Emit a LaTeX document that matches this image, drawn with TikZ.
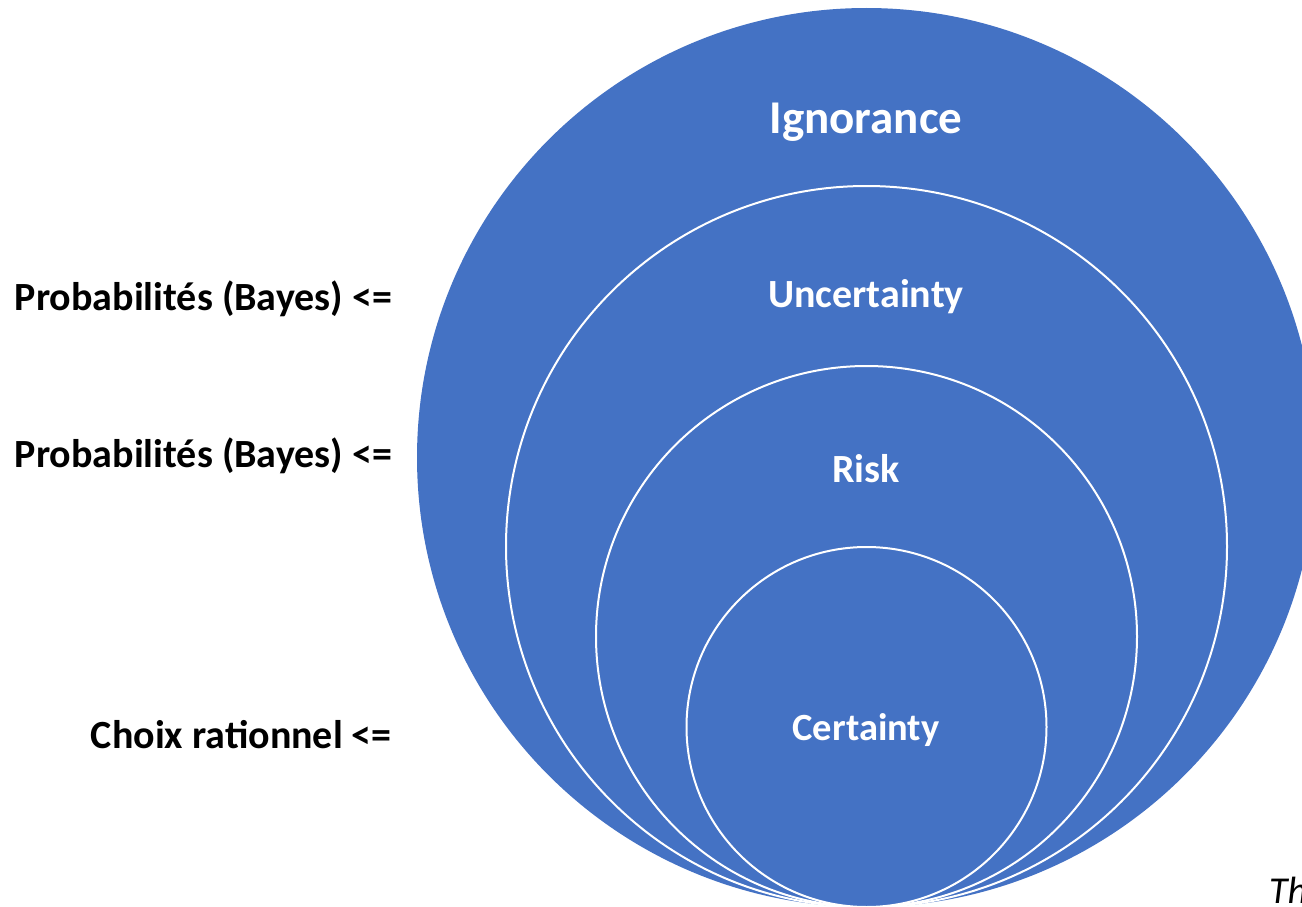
\documentclass[tikz,border=0pt]{standalone}
\usepackage{fontspec}
\setmainfont{Carlito}
\definecolor{officeblue}{HTML}{4472C4}
\begin{document}
\begin{tikzpicture}[x=1pt,y=-1pt,
  ring/.style={fill=officeblue,draw=white,line width=2pt},
  ringlabel/.style={anchor=base,text=white,font=\bfseries\fontsize{40}{48}\selectfont,inner sep=0pt},
  sidelabel/.style={anchor=base east,text=black,font=\bfseries\fontsize{40}{48}\selectfont,inner sep=0pt}]
  \useasboundingbox (0,0) rectangle (1302,907);
  \clip (0,0) rectangle (1302,907);
  % nested circles, all touching at the bottom
  \fill[officeblue] (866.5,457.5) circle[radius=449.5pt];
  \draw[ring] (866.5,546.5) circle[radius=360.5pt];
  \draw[ring] (866.5,636.5) circle[radius=270.5pt];
  \draw[ring] (866.5,727) circle[radius=180pt];
  % circle labels
  \node[ringlabel,font=\bfseries\fontsize{47}{56}\selectfont] (ign) at (866,133) {Ignorance};
  \node[ringlabel] (unc) at (866,307) {Uncertainty};
  \node[ringlabel] (risk) at (866,482) {Risk};
  \node[ringlabel,font=\bfseries\fontsize{38.5}{46}\selectfont] (cert) at (866,740) {Certainty};
  % side labels
  \node[sidelabel] (prob1) at (392,310) {Probabilités (Bayes) <=};
  \node[sidelabel] (prob2) at (392,467) {Probabilités (Bayes) <=};
  \node[sidelabel] (choix) at (392,748) {Choix rationnel <=};
  \node[anchor=base west,inner sep=0pt,font=\itshape\fontsize{38}{44}\selectfont] (th) at (1269,903) {Th};
\end{tikzpicture}
\end{document}
